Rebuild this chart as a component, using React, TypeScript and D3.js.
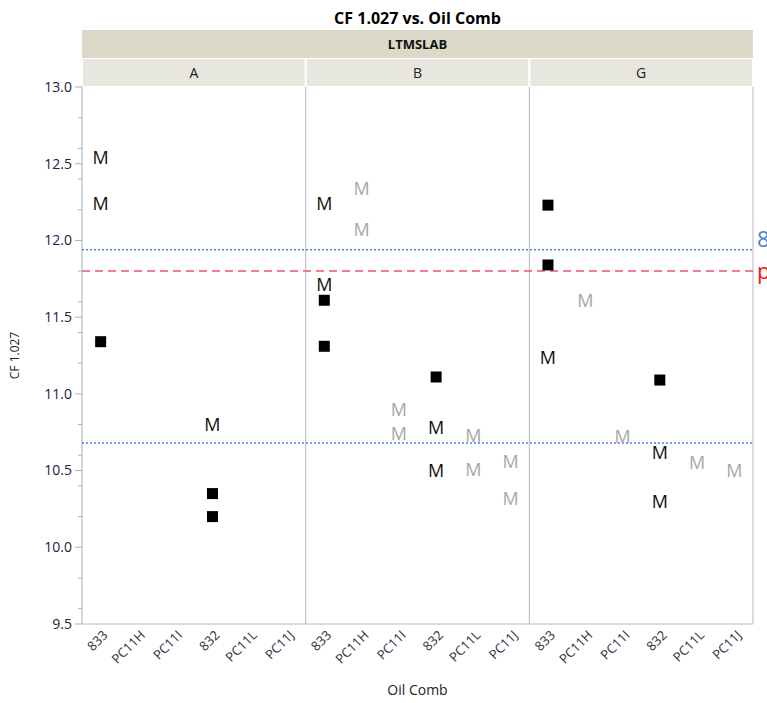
import React from 'react'
import * as d3 from 'd3'

// facets and categories
const labs = ['A', 'B', 'G']
const oilCombs = ['833', 'PC11H', 'PC11I', '832', 'PC11L', 'PC11J']

// points: [lab, oil comb, CF 1.027]
const squarePts: [string, string, number][] = [
  ['A', '833', 11.34],
  ['A', '832', 10.35],
  ['A', '832', 10.2],
  ['B', '833', 11.61],
  ['B', '833', 11.31],
  ['B', '832', 11.11],
  ['G', '833', 12.23],
  ['G', '833', 11.84],
  ['G', '832', 11.09],
]
const blackM: [string, string, number][] = [
  ['A', '833', 12.54],
  ['A', '833', 12.24],
  ['A', '832', 10.8],
  ['B', '833', 12.24],
  ['B', '833', 11.71],
  ['B', '832', 10.78],
  ['B', '832', 10.5],
  ['G', '833', 11.24],
  ['G', '832', 10.62],
  ['G', '832', 10.3],
]
const grayM: [string, string, number][] = [
  ['B', 'PC11H', 12.34],
  ['B', 'PC11H', 12.07],
  ['B', 'PC11I', 10.9],
  ['B', 'PC11I', 10.74],
  ['B', 'PC11L', 10.73],
  ['B', 'PC11L', 10.51],
  ['B', 'PC11J', 10.56],
  ['B', 'PC11J', 10.32],
  ['G', 'PC11H', 11.61],
  ['G', 'PC11I', 10.72],
  ['G', 'PC11L', 10.55],
  ['G', 'PC11J', 10.5],
]
// reference lines
const refLines = [
  { value: 11.94, color: '#4a80e8', dash: '2,2', label: '8', labelColor: '#4a7fd0' },
  { value: 11.8, color: '#ef5566', dash: '8,5', label: 'p', labelColor: '#ee1111' },
  { value: 10.68, color: '#4a80e8', dash: '2,2', label: '', labelColor: '#4a7fd0' },
]

const W = 767, H = 703
const left = 82, right = 753, top = 87, bottom = 624
const font = '"Open Sans", "Noto Sans", sans-serif'

export default function App() {
  const y = d3.scaleLinear().domain([9.5, 13]).range([bottom, top])
  const panel = d3.scaleBand().domain(labs).range([left, right])
  const inner = d3.scaleBand().domain(oilCombs).range([0, panel.bandwidth()])
  const cx = (lab: string, oil: string) =>
    (panel(lab) as number) + (inner(oil) as number) + inner.bandwidth() / 2

  const major = y.ticks(7)
  const minor = y.ticks(14).filter(t => !major.includes(t))

  return (
    <svg width={W} height={H} style={{ position: 'absolute', left: 0, top: 0, background: '#fff' }}>
      <text x={(left + right) / 2} y={24} textAnchor="middle" fontFamily={font}
        fontWeight="bold" fontSize={16} fill="#000">CF 1.027 vs. Oil Comb</text>

      {/* strips */}
      <rect x={left} y={30} width={right - left} height={28} fill="#dcd9c8" />
      <text x={(left + right) / 2} y={49} textAnchor="middle" fontFamily={font}
        fontWeight="bold" fontSize={13} fill="#111">LTMSLAB</text>
      {labs.map(l => (
        <g key={l}>
          <rect x={(panel(l) as number) + 1} y={59} width={panel.bandwidth() - 2} height={27} fill="#e8e7df" />
          <text x={(panel(l) as number) + panel.bandwidth() / 2} y={78} textAnchor="middle"
            fontFamily={font} fontSize={14} fill="#222">{l}</text>
        </g>
      ))}

      {/* panel borders */}
      {labs.slice(1).map(l => (
        <line key={l} x1={panel(l)} x2={panel(l)} y1={top} y2={bottom} stroke="#b4b8c0" />
      ))}
      <line x1={right} x2={right} y1={top} y2={bottom} stroke="#b4b8c0" />
      <line x1={left} x2={right} y1={bottom} y2={bottom} stroke="#b4b8c0" />
      <line x1={left} x2={left} y1={top} y2={bottom} stroke="#a8b0bc" />

      {/* y axis */}
      {major.map(t => (
        <g key={'M' + t}>
          <line x1={left - 7} x2={left} y1={y(t)} y2={y(t)} stroke="#a8b0bc" />
          <text x={left - 10} y={y(t)} dy="0.35em" textAnchor="end" fontFamily={font}
            fontSize={14} fill="#1c2240">{t.toFixed(1)}</text>
        </g>
      ))}
      {minor.map(t => (
        <line key={'m' + t} x1={left - 4} x2={left} y1={y(t)} y2={y(t)} stroke="#a8b0bc" />
      ))}
      <text transform={`translate(19,${(top + bottom) / 2}) rotate(-90)`} textAnchor="middle"
        fontFamily={font} fontSize={12} fill="#222">CF 1.027</text>

      {/* x axis labels */}
      {labs.map(l => oilCombs.map(o => (
        <text key={l + o} transform={`translate(${cx(l, o) + 8},${bottom + 12}) rotate(-45)`}
          textAnchor="end" fontFamily={font} fontSize={13} fill="#2a2e40">{o}</text>
      )))}
      <text x={(left + right) / 2} y={695} textAnchor="middle" fontFamily={font}
        fontSize={14} fill="#222">Oil Comb</text>

      {/* reference lines */}
      {refLines.map((r, i) => (
        <g key={i}>
          <line x1={left} x2={right} y1={y(r.value)} y2={y(r.value)}
            stroke={r.color} strokeWidth={1.5} strokeDasharray={r.dash} />
          {r.label && (
            <text x={right + 4} y={y(r.value)} dy={i === 0 ? '-0.1em' : '0.35em'} fontFamily={font}
              fontSize={22} fill={r.labelColor}>{r.label}</text>
          )}
        </g>
      ))}

      {/* points */}
      {squarePts.map((p, i) => (
        <rect key={'s' + i} x={cx(p[0], p[1]) - 5.5} y={y(p[2]) - 5.5} width={11} height={11} fill="#000" />
      ))}
      {blackM.map((p, i) => (
        <text key={'b' + i} x={cx(p[0], p[1])} y={y(p[2])} dy="0.36em" textAnchor="middle"
          fontFamily={font} fontSize={18} fill="#111">M</text>
      ))}
      {grayM.map((p, i) => (
        <text key={'g' + i} x={cx(p[0], p[1])} y={y(p[2])} dy="0.36em" textAnchor="middle"
          fontFamily={font} fontSize={18} fill="#a8a8a8">M</text>
      ))}
    </svg>
  )
}
